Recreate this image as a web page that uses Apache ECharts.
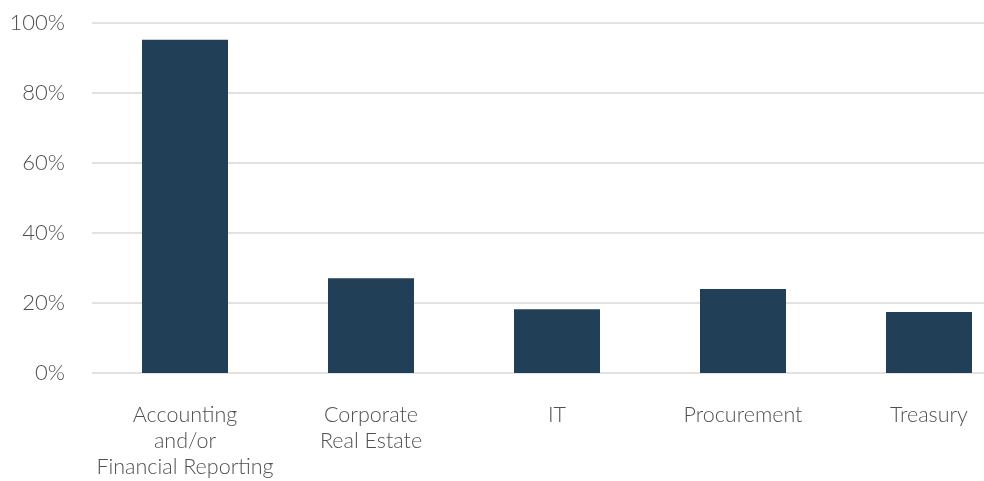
<!DOCTYPE html>
<html>
<head>
<meta charset="utf-8">
<script src="https://cdn.jsdelivr.net/npm/echarts@6/dist/echarts.min.js"></script>
<style>
  html, body { margin: 0; padding: 0; background: #ffffff; overflow: hidden; width: 984px; height: 481px; }
  /* The plot runs past the right edge of the page, so the canvas is wider than the window */
  #chart { width: 1022px; height: 481px; }
</style>
</head>
<body>
<div id="chart"></div>
<script>
// Share of respondents by function (percent)
const categories = [
  "Accounting\nand/or\nFinancial Reporting",
  "Corporate\nReal Estate",
  "IT",
  "Procurement",
  "Treasury"
];
const shares = [95.2, 27.1, 18.2, 24.0, 17.4];
const yTicks = [0, 20, 40, 60, 80, 100];

const chart = echarts.init(document.getElementById('chart'), null, { renderer: 'canvas' });

chart.setOption({
  animation: false,
  backgroundColor: '#ffffff',
  textStyle: { fontFamily: 'Lato', fontWeight: 300 },
  grid: { left: 92, right: 0, top: 23, height: 350, containLabel: false },
  xAxis: {
    type: 'category',
    data: categories,
    axisLine: { show: false },
    axisTick: { show: false },
    axisLabel: {
      interval: 0,
      margin: 29,
      fontSize: 21.5,
      lineHeight: 26,
      color: '#505050',
      fontFamily: 'Lato',
      fontWeight: 300
    }
  },
  yAxis: {
    type: 'value',
    min: yTicks[0],
    max: yTicks[yTicks.length - 1],
    interval: yTicks[1] - yTicks[0],
    axisLine: { show: false },
    axisTick: { show: false },
    splitLine: { lineStyle: { color: '#d9d9d9', width: 1.5 } },
    axisLabel: {
      margin: 27,
      fontSize: 22,
      color: '#505050',
      fontFamily: 'Lato',
      fontWeight: 300,
      formatter: v => v + '%'
    }
  },
  series: [{
    type: 'bar',
    data: shares,
    barWidth: 86,
    itemStyle: { color: '#213f57' }
  }]
});
</script>
</body>
</html>
